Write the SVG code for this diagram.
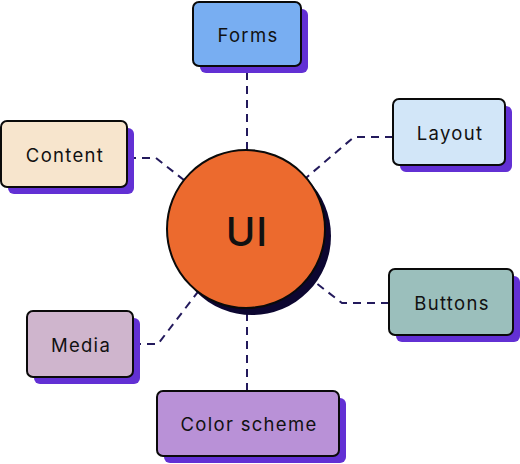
<svg xmlns="http://www.w3.org/2000/svg" width="520" height="464" viewBox="0 0 520 464">
<style>
.sh{fill:#6230d4}
.box{stroke:#0a0a0a;stroke-width:2}
.lbl{font-family:Inter,"Open Sans","Liberation Sans",sans-serif;font-size:18.5px;letter-spacing:1.3px;fill:#111;text-anchor:middle;dominant-baseline:central}
.con{fill:none;stroke:#231a5c;stroke-width:2;stroke-dasharray:8 6}
</style>
<rect width="520" height="464" fill="#ffffff"/>
<g id="connectors">
<path class="con" d="M247 72 V229"/>
<path class="con" d="M247 229 V391"/>
<path class="con" d="M128 158 H156 L246 229"/>
<path class="con" d="M393 137 H354 L246 229"/>
<path class="con" d="M389 303 H342 L246 229"/>
<path class="con" d="M133 344 H158 L246 229"/>
</g>
<g id="ui">
<circle cx="252" cy="236" r="79" fill="#0c0630"/>
<circle cx="246" cy="229" r="79" fill="#ec6a2e" stroke="#0a0a0a" stroke-width="2"/>
<text class="lbl" x="247" y="231" style="font-size:40px;font-weight:500;letter-spacing:1px">UI</text>
</g>
<g id="forms">
<rect class="sh" x="200" y="9" width="108" height="64" rx="6"/>
<rect class="box" x="193" y="2" width="108" height="64" rx="6" fill="#78aef2"/>
<text class="lbl" x="248" y="35">Forms</text>
</g>
<g id="content">
<rect class="sh" x="8" y="128" width="126" height="66" rx="6"/>
<rect class="box" x="1" y="121" width="126" height="66" rx="6" fill="#f7e5cd"/>
<text class="lbl" x="65" y="155">Content</text>
</g>
<g id="layout">
<rect class="sh" x="400" y="106" width="112" height="66" rx="6"/>
<rect class="box" x="393" y="99" width="112" height="66" rx="6" fill="#d2e6f8"/>
<text class="lbl" x="450" y="133">Layout</text>
</g>
<g id="buttons">
<rect class="sh" x="396" y="276" width="124" height="66" rx="6"/>
<rect class="box" x="389" y="269" width="124" height="66" rx="6" fill="#9bbfbc"/>
<text class="lbl" x="452" y="303">Buttons</text>
</g>
<g id="media">
<rect class="sh" x="34" y="318" width="106" height="66" rx="6"/>
<rect class="box" x="27" y="311" width="106" height="66" rx="6" fill="#cfb5cd"/>
<text class="lbl" x="81" y="345">Media</text>
</g>
<g id="colorscheme">
<rect class="sh" x="164" y="398" width="182" height="65" rx="6"/>
<rect class="box" x="157" y="391" width="182" height="65" rx="6" fill="#b991d7"/>
<text class="lbl" x="249" y="424">Color scheme</text>
</g>
</svg>
